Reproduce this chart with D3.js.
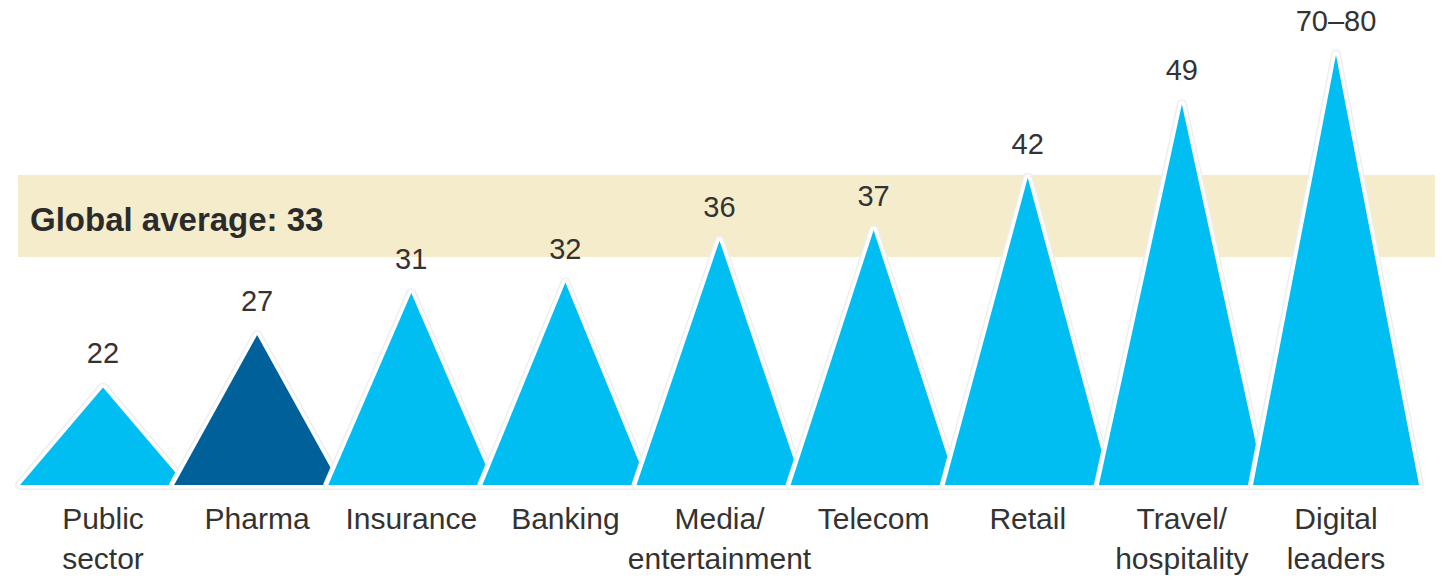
<!DOCTYPE html>
<html>
<head>
<meta charset="utf-8">
<script src="https://cdn.jsdelivr.net/npm/d3@7"></script>
<style>
  body { margin: 0; background: #fff; }
  svg { display: block; }
</style>
</head>
<body>
<div id="chart"></div>
<script>
// data
const categories = ['Public sector', 'Pharma', 'Insurance', 'Banking', 'Media/ entertainment',
  'Telecom', 'Retail', 'Travel/ hospitality', 'Digital leaders']
const categoryLines = [['Public', 'sector'], ['Pharma'], ['Insurance'], ['Banking'],
  ['Media/', 'entertainment'], ['Telecom'], ['Retail'], ['Travel/', 'hospitality'], ['Digital', 'leaders']]
const values = [22, 27, 31, 32, 36, 37, 42, 49, 75]
const valueLabels = ['22', '27', '31', '32', '36', '37', '42', '49', '70–80']
const highlighted = ['Pharma']
const averageLabel = 'Global average: 33'

const drawMountains = () => {
  const dims = { width: 1448, height: 580, baseline: 485, top: 55 }
  const fontFamily = "'Liberation Sans', Arial, Helvetica, sans-serif"

  const rows = categories.map((c, i) => ({
    category: c,
    lines: categoryLines[i],
    value: values[i],
    label: valueLabels[i]
  }))

  const svg = d3.select('#chart')
    .append('svg')
    .attr('width', dims.width)
    .attr('height', dims.height)

  // x: one peak per category
  const xScale = d3.scalePoint()
    .domain(categories)
    .range([103, 1336])

  // y: the chart is not drawn to a zero base; the top is clamped (70-80 hits the ceiling)
  const yScale = d3.scaleLinear()
    .domain([12.7, 53.7])
    .range([dims.baseline, dims.top])
    .clamp(true)

  const halfWidth = 83

  // global average band
  svg.append('rect')
    .attr('x', 18)
    .attr('y', 175)
    .attr('width', 1417)
    .attr('height', 82)
    .attr('fill', '#f4eccb')

  svg.append('text')
    .attr('x', 30)
    .attr('y', 231)
    .attr('font-family', fontFamily)
    .attr('font-size', '33px')
    .attr('font-weight', 'bold')
    .attr('fill', '#2b2b2b')
    .text(averageLabel)

  const trianglePath = (d) => {
    const cx = xScale(d.category)
    const path = d3.path()
    path.moveTo(cx - halfWidth, dims.baseline)
    path.lineTo(cx, yScale(d.value))
    path.lineTo(cx + halfWidth, dims.baseline)
    path.closePath()
    return path.toString()
  }

  // each mountain gets a white halo so it cuts into the one before it
  const mountains = svg.append('g')
    .selectAll('g')
    .data(rows)
    .join('g')

  mountains.append('path')
    .attr('d', trianglePath)
    .attr('fill', '#eeeeee')
    .attr('stroke', '#eeeeee')
    .attr('stroke-width', 10)
    .attr('stroke-linejoin', 'round')

  mountains.append('path')
    .attr('d', trianglePath)
    .attr('fill', '#fff')
    .attr('stroke', '#fff')
    .attr('stroke-width', 7)
    .attr('stroke-linejoin', 'round')

  mountains.append('path')
    .attr('d', trianglePath)
    .attr('fill', (d) => highlighted.includes(d.category) ? '#00609a' : '#00bdf2')

  // value labels over the peaks
  svg.append('g')
    .selectAll('text')
    .data(rows)
    .join('text')
    .attr('x', (d) => xScale(d.category))
    .attr('y', (d) => yScale(d.value) - 24)
    .attr('text-anchor', 'middle')
    .attr('font-family', fontFamily)
    .attr('font-size', '29px')
    .attr('fill', '#333')
    .text((d) => d.label)

  // category labels under the baseline
  const catLabels = svg.append('g')
    .selectAll('text')
    .data(rows)
    .join('text')
    .attr('x', (d) => xScale(d.category))
    .attr('y', 529)
    .attr('text-anchor', 'middle')
    .attr('font-family', fontFamily)
    .attr('font-size', '30px')
    .attr('fill', '#333')

  catLabels.selectAll('tspan')
    .data((d) => d.lines.map((line) => ({ line, x: xScale(d.category) })))
    .join('tspan')
    .attr('x', (t) => t.x)
    .attr('dy', (t, i) => i === 0 ? 0 : 40)
    .text((t) => t.line)
}

drawMountains()
</script>
</body>
</html>
